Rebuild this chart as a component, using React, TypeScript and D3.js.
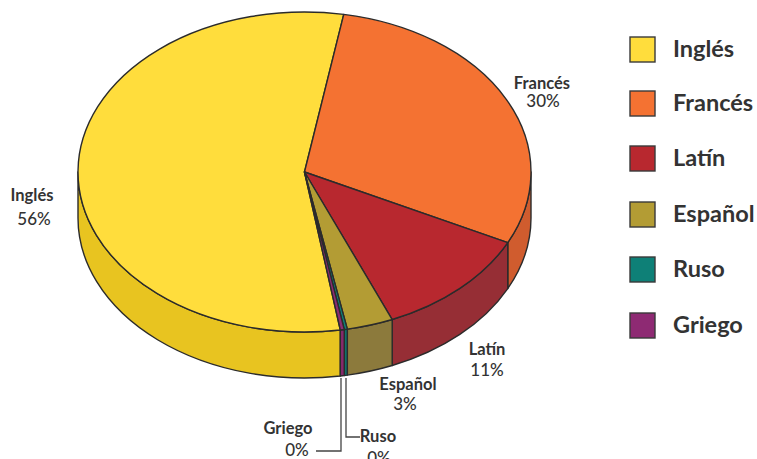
import React from "react";
import * as d3 from "d3";

const categories = ["Inglés", "Francés", "Latín", "Español", "Ruso", "Griego"];
const values = [55.3, 29.5, 11.4, 3.3, 0.22, 0.28];
const percentLabels = ["56%", "30%", "11%", "3%", "0%", "0%"];
const topColors = ["#FFDD3C", "#F47232", "#B8282F", "#B39C34", "#0E8077", "#8E2A73"];
const sideColors = ["#E8C420", "#D05C2E", "#962E35", "#8C7A3C", "#0E7269", "#86286C"];
const nameAnchors: [number, number][] = [[32, 201], [542, 89], [487, 355], [408, 390], [378, 442], [288, 434]];
const pctAnchors: [number, number][] = [[34, 225], [543, 107], [487, 376], [405, 410], [379, 464], [297, 456]];
const legendY = [49, 103, 158, 214, 269, 325];

const W = 757, H = 459;
const cx = 304.5, cy = 172, rx = 226.5, ry = 160, depth = 46;
const stroke = "#2b2b2b";
const font = "Lato, sans-serif";

const sy = d3.scaleLinear().domain([-rx, rx]).range([cy - ry, cy + ry]);
const sx = d3.scaleLinear().domain([-rx, rx]).range([cx - rx, cx + rx]);
const pt = (a: number, dz = 0): [number, number] => [sx(rx * Math.sin(a)), sy(-rx * Math.cos(a)) + dz];

const pie = d3.pie<number>().sort(null).startAngle((170.9 * Math.PI) / 180).endAngle(((170.9 + 360) * Math.PI) / 180);
const arcs = pie(values);

function topPath(a0: number, a1: number) {
  const p0 = pt(a0), p1 = pt(a1);
  const large = a1 - a0 > Math.PI ? 1 : 0;
  return `M${cx},${cy}L${p0[0]},${p0[1]}A${rx},${ry} 0 ${large} 1 ${p1[0]},${p1[1]}Z`;
}

function sidePieces(a0: number, a1: number) {
  const out: string[] = [];
  const lo = Math.PI / 2, hi = (3 * Math.PI) / 2;
  for (const k of [0, 2 * Math.PI]) {
    const s = Math.max(a0, lo + k), e = Math.min(a1, hi + k);
    if (e > s) {
      const p0 = pt(s), p1 = pt(e), q1 = pt(e, depth), q0 = pt(s, depth);
      out.push(`M${p0[0]},${p0[1]}A${rx},${ry} 0 0 1 ${p1[0]},${p1[1]}L${q1[0]},${q1[1]}A${rx},${ry} 0 0 0 ${q0[0]},${q0[1]}Z`);
    }
  }
  return out;
}

export default function App() {
  return (
    <svg width={W} height={H} viewBox={`0 0 ${W} ${H}`} style={{ position: "absolute", left: 0, top: 0, background: "#fff" }}>
      {arcs.map((a, i) =>
        sidePieces(a.startAngle, a.endAngle).map((d, j) => (
          <path key={`s${i}-${j}`} d={d} fill={sideColors[i]} stroke={stroke} strokeWidth={1.4} strokeLinejoin="round" />
        ))
      )}
      {arcs.map((a, i) => (
        <path key={`t${i}`} d={topPath(a.startAngle, a.endAngle)} fill={topColors[i]} stroke={stroke} strokeWidth={1.4} strokeLinejoin="round" />
      ))}
      <path d="M341,378V451H316" fill="none" stroke="#444" strokeWidth={1.3} />
      <path d="M346,378V437H360" fill="none" stroke="#444" strokeWidth={1.3} />
      {categories.map((c, i) => (
        <g key={`l${i}`} fontFamily={font} fill="#333" textAnchor="middle">
          <text x={nameAnchors[i][0]} y={nameAnchors[i][1]} fontWeight={700} fontSize={16.5}>{c}</text>
          <text x={pctAnchors[i][0]} y={pctAnchors[i][1]} fontWeight={500} fontSize={17}>{percentLabels[i]}</text>
        </g>
      ))}
      {categories.map((c, i) => (
        <g key={c}>
          <rect x={630} y={legendY[i] - 12} width={25} height={25} fill={topColors[i]} stroke="#3a3a3a" strokeWidth={1.4} />
          <text x={673} y={legendY[i] + 8} fontFamily={font} fontWeight={700} fontSize={23.5} fill="#333">{c}</text>
        </g>
      ))}
    </svg>
  );
}
